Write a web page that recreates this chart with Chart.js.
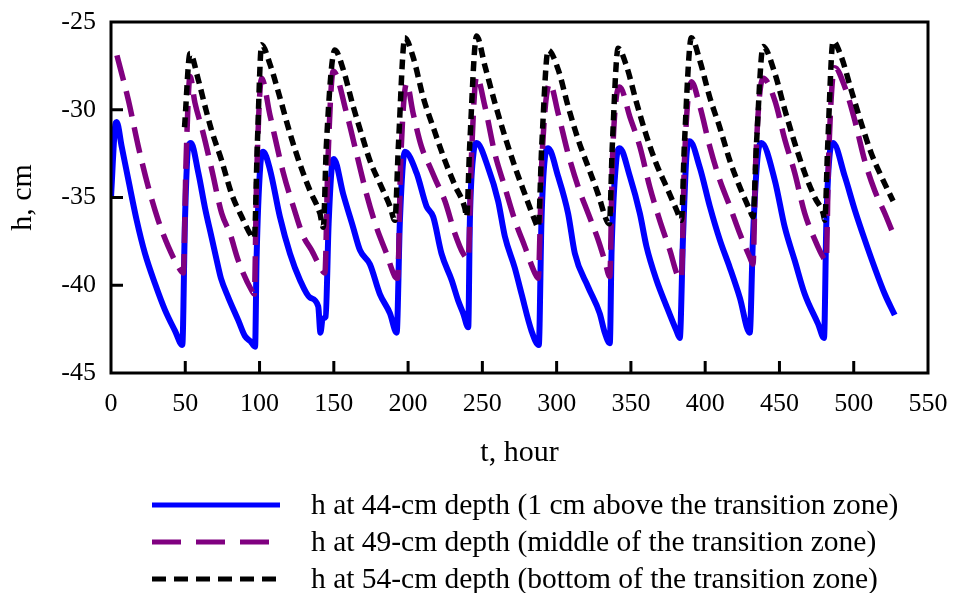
<!DOCTYPE html>
<html>
<head>
<meta charset="utf-8">
<title>Pressure head near the transition zone</title>
<script src="https://cdn.jsdelivr.net/npm/chart.js@4/dist/chart.umd.min.js"></script>
<style>
  html, body { margin:0; padding:0; background:#fff; }
  #wrap { position:relative; width:954px; height:593px; }
</style>
</head>
<body>
<div id="wrap"><canvas id="headChart" width="954" height="593"></canvas></div>
<script>
// time (hours) and pressure head h (cm) for the three observation depths
const t44 = [0, 2.7, 3.8, 7.2, 11.7, 17.3, 22.9, 29.6, 36.3, 43.1, 48, 49.8, 52, 53.8,
  58.8, 63.3, 67.8, 72, 74, 79, 85.7, 90.2, 94, 97, 98, 100.5, 102.5,
  107, 113.7, 120.5, 127.2, 133.9, 139.5, 141, 142.5, 144.5, 146.5, 149, 150,
  156.3, 163, 167.6, 174.3, 181, 187.8, 192.3, 194.5, 197.8,
  205.7, 212.4, 216.9, 222.5, 229.3, 233.8, 237.1, 240.5, 241.6, 244, 246.1,
  253.9, 260.6, 265.1, 271.8, 276.4, 283.1, 288, 289.8, 292, 294.3,
  301, 307.7, 312.3, 321.2, 329, 332.4, 335.8, 337, 340, 342.5,
  349.3, 356, 360.5, 367.2, 374, 380.7, 382.9, 385.1, 387.5, 389.6,
  396.4, 403.1, 409.8, 416.6, 423.3, 430, 432.2, 435.5, 437.9,
  446.8, 453.6, 460.3, 467, 476, 480, 481.6, 484, 486.1,
  494, 500.7, 507.4, 514.1, 520.9, 527.6];
const h44 = [-35.0, -31.0, -30.7, -32.1, -34.0, -36.3, -38.2, -39.9, -41.4, -42.6, -43.4, -36.3, -32.1, -31.9,
  -33.6, -35.6, -37.3, -38.9, -39.6, -40.7, -42.0, -42.9, -43.2, -43.5, -38.5, -33.2, -32.4,
  -33.4, -36.1, -38.2, -39.7, -40.7, -41.2, -42.7, -41.9, -41.8, -36.5, -33.0, -32.8,
  -34.8, -36.7, -38.0, -38.8, -40.5, -41.6, -42.7, -36.3, -32.4,
  -33.6, -35.5, -36.1, -38.2, -39.7, -40.9, -41.6, -42.4, -36.3, -32.5, -31.9,
  -33.3, -35.2, -37.2, -39.0, -40.5, -42.6, -43.4, -36.3, -32.8, -32.2,
  -33.8, -35.9, -38.2, -40.1, -41.6, -42.7, -43.3, -38.0, -33.0, -32.2,
  -33.8, -35.9, -37.8, -39.7, -41.2, -42.6, -43.0, -37.2, -32.5, -31.8,
  -33.3, -35.5, -37.4, -39.0, -40.7, -42.7, -37.2, -32.5, -31.9,
  -34.0, -36.7, -38.6, -40.5, -42.2, -43.0, -36.3, -32.4, -31.9,
  -33.8, -35.7, -37.4, -39.0, -40.5, -41.7];

const t49 = [4, 11.7, 18.4, 25.1, 31.8, 38.6, 46.4, 48.7, 50.5, 53.2,
  56.5, 62.1, 67.8, 74.5, 80.1, 85.7, 94.7, 96.5, 98, 101.4,
  107, 116, 122.7, 129.4, 135, 141.8, 144, 146, 149.6,
  158.6, 165.3, 172, 178.7, 185.5, 191.1, 193, 195, 199,
  203.4, 209, 214.7, 218.5, 224.8, 231.5, 237.1, 240.5, 242.5, 246.1,
  251.7, 258.4, 265.1, 271.9, 278.6, 285.3, 287.6, 290, 295.4,
  301, 307.7, 314.5, 321.2, 327.9, 332.4, 335.8, 337.5, 342.5,
  349.3, 356, 362.7, 369.4, 376.2, 381.8, 384, 386, 390.7,
  396.4, 403.1, 409.8, 416.6, 423.3, 430, 432.2, 434, 439,
  446.8, 453.6, 460.3, 467, 473.8, 479.4, 481.5, 483, 487.2,
  494, 500.7, 507.4, 514.1, 520.9, 526.5];
const h49 = [-26.9, -29.45, -32.1, -34.4, -36.3, -37.8, -39.1, -39.3, -33.0, -28.1,
  -29.6, -31.35, -33.4, -35.9, -37.05, -38.6, -40.3, -40.5, -34.0, -28.2,
  -30.3, -33.6, -35.5, -37.2, -38.0, -39.1, -39.3, -33.0, -27.8,
  -30.2, -32.5, -34.8, -36.7, -38.2, -39.5, -39.6, -33.0, -28.5,
  -30.2, -32.1, -33.25, -34.0, -35.2, -37.05, -38.2, -38.5, -33.0, -28.1,
  -29.8, -32.5, -34.4, -36.3, -37.8, -39.3, -39.6, -33.0, -28.5,
  -30.2, -32.5, -34.4, -35.9, -37.4, -38.6, -39.5, -33.0, -28.7,
  -30.4, -32.1, -34.4, -36.3, -38.0, -39.5, -39.6, -33.0, -28.4,
  -29.8, -32.1, -34.0, -35.5, -37.05, -38.4, -38.8, -33.0, -28.2,
  -29.45, -31.7, -33.6, -35.9, -37.4, -38.4, -38.6, -33.0, -27.6,
  -28.7, -30.6, -32.9, -34.6, -35.9, -37.05];

const t54 = [49.5, 53.2,
  58.8, 63.3, 67.8, 74.5, 81.2, 88, 94.7, 96.5, 98.5, 101.4,
  107, 113.7, 120.5, 127.2, 133.9, 140.6, 142.9, 145, 150.7,
  156.3, 163, 169.8, 174.3, 181, 187.8, 191.1, 193.5, 197.8,
  203.4, 210.2, 216.9, 224.8, 231.5, 238.2, 239.4, 241.5, 246.1,
  251.7, 258.4, 265.1, 271.9, 278.6, 285.3, 287.6, 290, 294.3,
  301, 307.7, 314.5, 321.2, 327.9, 333.6, 335.5, 337.5, 341.4,
  347, 353.8, 360.5, 367.2, 374, 380.7, 384, 386, 390.7,
  396.4, 403.1, 409.8, 416.6, 423.3, 430, 432.2, 434.5, 439,
  446.8, 453.6, 460.3, 467, 473.8, 479.4, 480.5, 482.5, 486.1,
  491.7, 498.4, 505.2, 511.9, 518.6, 526.5];
const h54 = [-31.0, -26.8,
  -28.3, -29.8, -31.2, -32.9, -34.8, -36.1, -37.2, -37.3, -32.0, -26.3,
  -27.4, -29.3, -31.35, -33.1, -34.6, -35.9, -36.7, -32.0, -26.6,
  -27.7, -29.8, -31.7, -32.9, -34.2, -35.5, -36.3, -32.0, -25.9,
  -27.0, -29.3, -31.0, -32.9, -34.3, -35.6, -36.1, -32.0, -25.8,
  -27.5, -29.6, -31.5, -33.25, -34.8, -36.3, -36.7, -32.0, -26.6,
  -27.7, -29.8, -31.7, -33.25, -34.8, -36.3, -36.5, -32.0, -26.5,
  -27.5, -29.6, -31.5, -33.1, -34.4, -35.7, -36.3, -32.0, -25.9,
  -27.2, -29.3, -31.0, -32.9, -34.4, -35.7, -36.1, -32.0, -26.4,
  -27.9, -30.0, -31.9, -33.6, -35.0, -35.9, -36.3, -32.0, -26.1,
  -27.0, -28.9, -30.8, -32.5, -33.8, -35.2];

const seriesNames = [
  "h at 44-cm depth (1 cm above the transition zone)",
  "h at 49-cm depth (middle of the transition zone)",
  "h at 54-cm depth (bottom of the transition zone)"
];
const xTicks = [0, 50, 100, 150, 200, 250, 300, 350, 400, 450, 500, 550];
const yTicks = [-45, -40, -35, -30, -25];

const SERIF = "'Liberation Serif', 'Times New Roman', serif";
const pts = (ts, hs) => ts.map((t, i) => ({ x: t, y: hs[i] }));

// closed frame with inward tick marks
const framePlugin = {
  id: "frame",
  afterDatasetsDraw(chart){
    const { ctx, chartArea: a, scales: { x, y } } = chart;
    ctx.save();
    ctx.strokeStyle = "#000";
    ctx.lineWidth = 3;
    ctx.lineCap = "butt";
    ctx.beginPath();
    xTicks.forEach(v => {
      const px = x.getPixelForValue(v);
      if (px <= a.left + 1 || px >= a.right - 1) return;
      ctx.moveTo(px, a.bottom); ctx.lineTo(px, a.bottom - 12);
    });
    yTicks.forEach(v => {
      const py = y.getPixelForValue(v);
      if (py <= a.top + 1 || py >= a.bottom - 1) return;
      ctx.moveTo(a.left, py); ctx.lineTo(a.left + 12, py);
    });
    ctx.stroke();
    ctx.lineJoin = "miter";
    ctx.strokeRect(a.left, a.top, a.right - a.left, a.bottom - a.top);
    ctx.restore();
  }
};

// legend rows under the axis title, drawn from the dataset styles
const legendPlugin = {
  id: "rowsLegend",
  afterDraw(chart){
    const { ctx } = chart;
    ctx.save();
    chart.data.datasets.forEach((ds, i) => {
      const yy = 505 + i * 37;
      ctx.strokeStyle = ds.borderColor;
      ctx.lineWidth = 5;
      ctx.setLineDash(ds.legendDash || []);
      ctx.beginPath();
      ctx.moveTo(152, yy); ctx.lineTo(280, yy);
      ctx.stroke();
      ctx.setLineDash([]);
      ctx.fillStyle = "#000";
      ctx.font = "29.5px " + SERIF;
      ctx.textBaseline = "middle";
      ctx.textAlign = "left";
      ctx.fillText(ds.label, 311, yy + 1);
    });
    ctx.restore();
  }
};

// keep the plot box where the layout padding puts it
function noScalePadding(s){
  s.paddingLeft = 0; s.paddingRight = 0; s.paddingTop = 0; s.paddingBottom = 0;
}

new Chart(document.getElementById("headChart"), {
  type: "line",
  data: {
    datasets: [
      { label: seriesNames[0], data: pts(t44, h44), borderColor: "#0000ff", borderWidth: 6,
        order: 3, legendDash: [] },
      { label: seriesNames[1], data: pts(t49, h49), borderColor: "#800080", borderWidth: 5.5,
        borderDash: [26, 11], order: 2, legendDash: [29, 15] },
      { label: seriesNames[2], data: pts(t54, h54), borderColor: "#000000", borderWidth: 5.5,
        borderDash: [10, 6], order: 1, legendDash: [14, 8] }
    ]
  },
  options: {
    responsive: false,
    animation: false,
    events: [],
    elements: {
      point: { radius: 0 },
      line: { tension: 0, cubicInterpolationMode: "monotone", fill: false,
        borderJoinStyle: "round", borderCapStyle: "butt" }
    },
    layout: { padding: { left: 0, top: 22, right: 26, bottom: 118 } },
    plugins: { legend: { display: false }, tooltip: { enabled: false } },
    scales: {
      x: {
        type: "linear", min: 0, max: 550,
        afterFit(s){ s.height = 102; noScalePadding(s); },
        afterBuildTicks(s){ s.ticks = xTicks.map(v => ({ value: v })); },
        grid: { display: false, drawTicks: false },
        border: { display: false },
        ticks: { color: "#000", padding: 16, maxRotation: 0, font: { family: SERIF, size: 26 } },
        title: { display: true, text: "t, hour", color: "#000", padding: { top: 0, bottom: 4 },
          font: { family: SERIF, size: 30 } }
      },
      y: {
        min: -45, max: -25,
        afterFit(s){ s.width = 111; noScalePadding(s); },
        afterBuildTicks(s){ s.ticks = yTicks.map(v => ({ value: v })); },
        grid: { display: false, drawTicks: false },
        border: { display: false },
        ticks: { color: "#000", padding: 15, font: { family: SERIF, size: 26 } },
        title: { display: true, text: "h, cm", color: "#000", padding: { top: 5, bottom: 0 },
          font: { family: SERIF, size: 30 } }
      }
    }
  },
  plugins: [framePlugin, legendPlugin]
});
</script>
</body>
</html>
